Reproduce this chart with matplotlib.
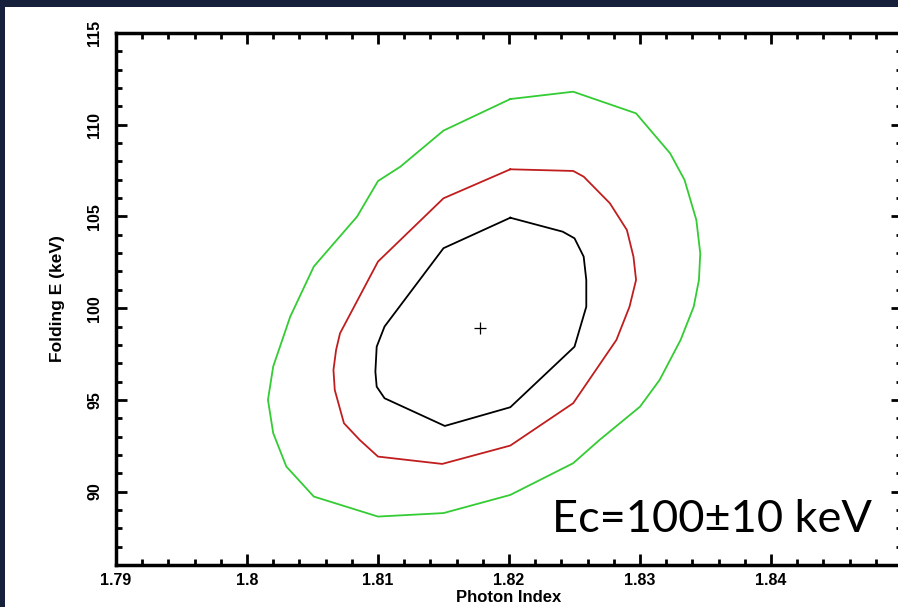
import matplotlib
matplotlib.use("Agg")
import matplotlib.pyplot as plt
from matplotlib.patches import Rectangle
from matplotlib.ticker import MultipleLocator
from matplotlib.font_manager import FontProperties

# Best-fit point
best_index = 1.8178
best_fold = 98.92

# Confidence contours (photon index, folding energy in keV)
inner_x = [1.8201, 1.8241, 1.8250, 1.8257, 1.8259, 1.8259, 1.8250, 1.8201, 1.8151,
           1.8105, 1.8099, 1.8098, 1.8099, 1.8105, 1.8150]
inner_y = [104.93, 104.17, 103.81, 102.81, 101.54, 100.08, 97.90, 94.60, 93.58,
           95.09, 95.72, 96.54, 97.90, 99.00, 103.27]

middle_x = [1.8201, 1.8249, 1.8257, 1.8277, 1.8290, 1.8295, 1.8297, 1.8292, 1.8282,
            1.8249, 1.8201, 1.8149, 1.8100, 1.8086, 1.8074, 1.8067, 1.8066, 1.8068,
            1.8071, 1.8100, 1.8150]
middle_y = [107.57, 107.48, 107.17, 105.72, 104.26, 102.81, 101.54, 100.08, 98.27,
            94.82, 92.51, 91.51, 91.91, 92.82, 93.73, 95.54, 96.63, 97.72,
            98.63, 102.54, 105.99]

outer_x = [1.8201, 1.8249, 1.8297, 1.8323, 1.8334, 1.8343, 1.8346, 1.8345, 1.8341,
           1.8331, 1.8315, 1.8300, 1.8269, 1.8249, 1.8201, 1.8150, 1.8100, 1.8051,
           1.8030, 1.8020, 1.8016, 1.8020, 1.8033, 1.8051, 1.8084, 1.8100, 1.8117,
           1.8150]
outer_y = [111.40, 111.80, 110.62, 108.44, 106.99, 104.81, 102.99, 101.54, 100.08,
           98.27, 96.09, 94.63, 92.81, 91.55, 89.82, 88.83, 88.64, 89.73,
           91.37, 93.19, 95.00, 96.82, 99.54, 102.27, 104.99, 106.93, 107.71,
           109.68]

x_ticks = [1.79, 1.80, 1.81, 1.82, 1.83, 1.84]
x_tick_labels = ["1.79", "1.8", "1.81", "1.82", "1.83", "1.84"]
y_ticks = [90, 95, 100, 105, 110, 115]
y_tick_labels = ["90", "95", "100", "105", "110", "115"]

W, H = 898, 607
fig = plt.figure(figsize=(W / 100, H / 100), dpi=100, facecolor="white")
# dark slide border along the top and left edges
navy = "#16203a"
fig.patches.append(Rectangle((0, 1 - 7 / H), 1, 7 / H, transform=fig.transFigure,
                             facecolor=navy, edgecolor="none", zorder=-5))
fig.patches.append(Rectangle((0, 0), 5 / W, 1, transform=fig.transFigure,
                             facecolor=navy, edgecolor="none", zorder=-5))

left, right, bottom, top = 116, 902, 565, 33
ax = fig.add_axes([left / W, 1 - bottom / H, (right - left) / W, (bottom - top) / H])
ax.set_facecolor("white")

def closed(xs, ys):
    return list(xs) + [xs[0]], list(ys) + [ys[0]]

for xs, ys, col in [(outer_x, outer_y, "#33cc33"),
                    (middle_x, middle_y, "#c01e1e"),
                    (inner_x, inner_y, "black")]:
    cx, cy = closed(xs, ys)
    ax.plot(cx, cy, color=col, lw=1.3, solid_joinstyle="round")

ax.plot([best_index], [best_fold], marker="+", color="black", ms=9, mew=0.9, ls="none")

ax.set_xlim(1.79, 1.85)
ax.set_ylim(86, 115)
ax.set_xticks(x_ticks)
ax.set_xticklabels(x_tick_labels)
ax.set_yticks(y_ticks)
ax.set_yticklabels(y_tick_labels)
ax.xaxis.set_minor_locator(MultipleLocator(0.002))
ax.yaxis.set_minor_locator(MultipleLocator(1))

tick_fp = FontProperties(family="Liberation Sans", weight="bold", size=11.5)
for lab in ax.get_xticklabels():
    lab.set_fontproperties(tick_fp)
for lab in ax.get_yticklabels():
    lab.set_fontproperties(tick_fp)
    lab.set_rotation(90)
    lab.set_va("center")

ax.tick_params(which="both", direction="in", top=True, right=True, width=2, color="black")
ax.tick_params(which="major", length=8)
ax.tick_params(which="minor", length=4)
ax.tick_params(axis="x", pad=6)
ax.tick_params(axis="y", pad=10)
for sp in ax.spines.values():
    sp.set_linewidth(2.5)

ax.set_xlabel("Photon Index", family="Liberation Sans", weight="bold", size=12, labelpad=1.5)
ax.set_ylabel("Folding E (keV)", family="Liberation Sans", weight="bold", size=12.5, labelpad=16)

ax.text(1.8233, 87.81, "Ec=100\u00b110 keV", family="Lato", size=32.5,
        ha="left", va="baseline", color="black")

fig.savefig("out.png", dpi=100, facecolor=fig.get_facecolor())
